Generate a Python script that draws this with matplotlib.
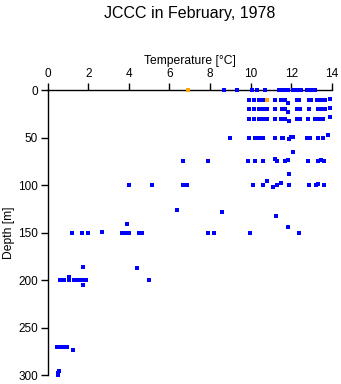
import matplotlib
matplotlib.use("Agg")
import matplotlib.pyplot as plt

plt.rcParams['font.family'] = ['Liberation Sans', 'DejaVu Sans']

# blue samples: temperature [C] and depth [m]
temp = [8.70, 9.31, 10.08, 10.3, 10.7, 11.4, 11.5, 11.6, 11.7, 11.85, 12.1, 12.2, 12.35, 12.5, 12.8, 13.0, 13.2,
        9.92, 10.17, 10.41, 10.62, 11.2, 11.5, 11.7, 12.3, 12.4, 12.9, 13.0, 13.3, 13.47, 13.67, 11.87, 13.9,
        9.92, 10.17, 10.41, 10.62, 10.81, 11.2, 11.56, 11.7, 12.3, 12.43, 12.9, 13.34, 13.5, 13.67, 11.87, 13.9,
        9.92, 10.17, 10.41, 10.62, 10.81, 11.2, 11.5, 11.7, 12.27, 12.43, 12.85, 13.2, 13.39, 13.58, 11.9, 13.9,
        8.98, 9.92, 10.22, 10.41, 10.62, 11.2, 11.53, 11.61, 12.76, 12.93, 13.34, 13.58, 11.9, 12.0, 12.1, 13.83,
        6.68, 7.92, 9.89, 10.22, 10.62, 11.28, 11.7, 12.85, 13.34, 13.63, 11.2, 11.86, 13.45, 12.1,
        4.0, 5.15, 6.68, 6.88, 10.1, 10.6, 11.28, 11.9, 12.9, 13.22, 13.62, 10.79, 11.12, 11.51, 11.9, 13.34,
        6.39, 8.6, 11.27,
        1.21, 1.71, 2.0, 3.68, 3.86, 3.94, 4.02, 4.5, 4.63, 7.92, 8.21, 9.98, 12.4, 2.69, 3.92, 11.87,
        0.61, 0.80, 1.07, 1.31, 1.39, 1.51, 1.71, 1.90, 5.01, 1.07, 1.76, 4.39, 1.74,
        0.45, 0.55, 0.65, 0.74, 0.85, 0.97, 1.23,
        0.57, 0.52, 0.49]
depth = [0] * 17 + \
        [10] * 14 + [13.5, 9.5] + \
        [20] * 14 + [23.5, 19] + \
        [30] * 14 + [33, 28.5] + \
        [51] * 12 + [52, 49, 49, 47] + \
        [75] * 10 + [73, 73.7, 73.7, 65] + \
        [100] * 11 + [95.5, 102.4, 97.5, 88, 98.6] + \
        [126, 128.7, 133] + \
        [151] * 13 + [149.6, 140.7, 144.5] + \
        [200] * 9 + [197, 186.6, 187.7, 205.6] + \
        [270] * 6 + [274] + \
        [296, 297.5, 300]

# orange samples
temp_o = [6.9, 10.82]
depth_o = [0, 10]

fig = plt.figure(figsize=(3.41, 3.84), dpi=100)
ax = fig.add_axes([0.1399, 0.0234, 0.8328, 0.7422])

ax.plot(temp, depth, 's', color='#0000ff', markersize=2.2, mew=0, clip_on=False, zorder=5)
ax.plot(temp_o, depth_o, 's', color='#ffa500', markersize=2.2, mew=0, clip_on=False, zorder=5)

ax.set_xlim(0, 14)
ax.set_ylim(300, 0)
ax.set_xticks(range(0, 15, 2))
ax.set_yticks(range(0, 301, 50))
ax.xaxis.tick_top()
ax.xaxis.set_label_position('top')
ax.set_xlabel('Temperature [°C]', fontsize=8.7, labelpad=3)
ax.set_ylabel('Depth [m]', fontsize=8.7, labelpad=2)
ax.tick_params(labelsize=8.5, length=5, width=1, pad=2)
ax.spines['right'].set_visible(False)
ax.spines['bottom'].set_visible(False)
for s in ['top', 'left']:
    ax.spines[s].set_linewidth(1)

ax.set_title('JCCC in February, 1978', fontsize=11.5, pad=52)

fig.savefig('out.png', dpi=100)
